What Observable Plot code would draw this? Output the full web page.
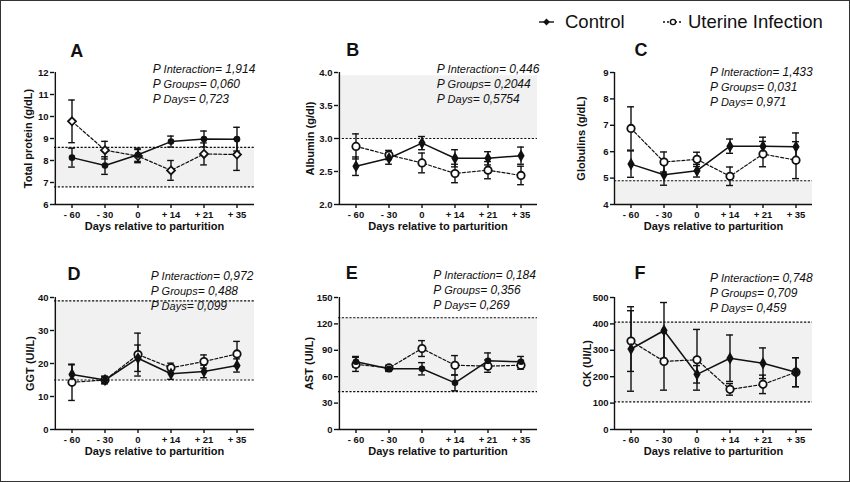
<!DOCTYPE html>
<html>
<head>
<meta charset="utf-8">
<script src="https://cdn.jsdelivr.net/npm/d3@7"></script>
<script src="https://cdn.jsdelivr.net/npm/@observablehq/plot@0.6"></script>
<style>
  body { margin: 0; background: #fff; }
  #page { position: relative; width: 850px; height: 482px; overflow: hidden; background: #fff;
          font-family: "Liberation Sans", Arial, sans-serif; color: #111; }
  #frame { position: absolute; left: 0; top: 0; width: 850px; height: 482px; box-sizing: border-box;
           border: 1px solid #333; pointer-events: none; }
  .panel { position: absolute; }
  .letter { position: absolute; font-weight: bold; font-size: 18px; transform: translate(-50%, -50%); }
  .pv { position: absolute; font-style: italic; font-size: 12px; line-height: 15px; white-space: nowrap; }
  .pv .w { font-size: 11px; }
  .leg { position: absolute; font-size: 18.5px; line-height: 20px; white-space: nowrap; }
  svg.legsym { position: absolute; overflow: visible; }
</style>
</head>
<body>
<div id="page"><div id="frame"></div></div>
<script>
// ---------- data ----------
const days = ["- 60", "- 30", "0", "+ 14", "+ 21", "+ 35"];

// A: Total protein (g/dL)
const tpControl = [8.13, 7.77, 8.26, 8.86, 8.98, 8.97];
const tpControlSem = [0.43, 0.40, 0.30, 0.25, 0.36, 0.54];
const tpInfection = [9.78, 8.47, 8.20, 7.55, 8.30, 8.27];
const tpInfectionSem = [0.97, 0.40, 0.30, 0.45, 0.50, 0.72];
const tpTicks = [6, 7, 8, 9, 10, 11, 12];
const tpRef = [6.8, 8.6];

// B: Albumin (g/dl)
const albControl = [2.58, 2.70, 2.93, 2.70, 2.70, 2.74];
const albControlSem = [0.14, 0.09, 0.10, 0.13, 0.10, 0.13];
const albInfection = [2.88, 2.75, 2.63, 2.47, 2.52, 2.44];
const albInfectionSem = [0.19, 0.07, 0.15, 0.14, 0.13, 0.14];
const albTicks = [2.0, 2.5, 3.0, 3.5, 4.0];
const albRef = [3.0, 3.95];

// C: Globulins (g/dL)
const gloControl = [5.53, 5.13, 5.28, 6.21, 6.21, 6.19];
const gloControlSem = [0.50, 0.40, 0.24, 0.27, 0.34, 0.52];
const gloInfection = [6.88, 5.61, 5.71, 5.07, 5.91, 5.68];
const gloInfectionSem = [0.82, 0.38, 0.27, 0.35, 0.48, 0.70];
const gloTicks = [4, 5, 6, 7, 8, 9];
const gloRef = [4.0, 4.9];

// D: GGT (UI/L)
const ggtControl = [16.7, 15.0, 21.6, 16.9, 17.6, 19.4];
const ggtControlSem = [2.9, 1.2, 4.0, 1.7, 1.9, 2.0];
const ggtInfection = [14.3, 15.0, 22.7, 18.7, 20.6, 22.9];
const ggtInfectionSem = [5.5, 1.0, 6.5, 1.4, 2.0, 3.8];
const ggtTicks = [0, 10, 20, 30, 40];
const ggtRef = [15, 39];

// E: AST (UI/L)
const astControl = [77, 69, 69, 53, 78, 77];
const astControlSem = [6, 3, 7, 9, 9, 6];
const astInfection = [74, 70, 92, 73, 72, 73];
const astInfectionSem = [8, 3, 9, 11, 7, 4.5];
const astTicks = [0, 30, 60, 90, 120, 150];
const astRef = [43, 127];

// F: CK (UI/L)
const ckControl = [305, 375, 209, 270, 251, 217];
const ckControlSem = [160, 106, 33, 88, 58, 55];
const ckInfection = [335, 258, 264, 152, 171, 217];
const ckInfectionSem = [115, 109, 115, 22, 35, 55];
const ckTicks = [0, 100, 200, 300, 400, 500];
const ckRef = [105, 407];

// statistics text
const panelLetters = ["A", "B", "C", "D", "E", "F"];
const pInteraction = ["1,914", "0,446", "1,433", "0,972", "0,184", "0,748"];
const pGroups = ["0,060", "0,2044", "0,031", "0,488", "0,356", "0,709"];
const pDays = ["0,723", "0,5754", "0,971", "0,099", "0,269", "0,459"];

const xTitle = "Days relative to parturition";
const legendLabels = ["Control", "Uterine Infection"];

// ---------- layout ----------
const page = document.getElementById("page");
const FONT = "'Liberation Sans', Arial, sans-serif";

function panel(cfg) {
  const {left, top, ml, pw, ticks, fmt, yLabel, ylDx, control, controlSem, infection, infectionSem,
         shade, dashed, ctlSymbol, infSymbol} = cfg;
  const mt = 12, ph = 132, mb = 45, mr = 12;
  const rows = days.map((d, i) => ({day: d, c: control[i], cs: controlSem[i], f: infection[i], fs: infectionSem[i]}));
  const step = pw / days.length;
  const capInset = (step - 7) / 2;
  const y0 = ticks[0], y1 = ticks[ticks.length - 1];
  const cap = (acc) => Plot.tickY(rows, {x: "day", y: acc, insetLeft: capInset, insetRight: capInset, stroke: "#111", strokeWidth: 1.4});
  const chart = Plot.plot({
    width: ml + pw + mr, height: mt + ph + mb,
    marginLeft: ml, marginRight: mr, marginTop: mt, marginBottom: mb,
    style: {fontFamily: FONT, fontWeight: "bold", background: "transparent", overflow: "visible", color: "#111"},
    x: {type: "band", domain: days, padding: 0, label: null},
    y: {domain: [y0, y1], label: null},
    marks: [
      Plot.rect([shade], {y1: d => d[0], y2: d => d[1], fill: "#f1f1f1"}),
      Plot.ruleY(dashed, {stroke: "#111", strokeWidth: 1.2, strokeDasharray: "2.2,1.6"}),
      // error bars
      Plot.ruleX(rows, {x: "day", y1: d => d.f - d.fs, y2: d => d.f + d.fs, stroke: "#111", strokeWidth: 1.4}),
      cap(d => d.f - d.fs), cap(d => d.f + d.fs),
      Plot.ruleX(rows, {x: "day", y1: d => d.c - d.cs, y2: d => d.c + d.cs, stroke: "#111", strokeWidth: 1.4}),
      cap(d => d.c - d.cs), cap(d => d.c + d.cs),
      // series lines
      Plot.line(rows, {x: "day", y: "f", stroke: "#111", strokeWidth: 1.2, strokeDasharray: "3,2"}),
      Plot.line(rows, {x: "day", y: "c", stroke: "#111", strokeWidth: 1.5}),
      // markers
      Plot.dot(rows, {x: "day", y: "f", symbol: infSymbol, r: infSymbol === "circle" ? 3.7 : 3.6, fill: "white", stroke: "#111", strokeWidth: 1.8}),
      Plot.dot(rows, {x: "day", y: "c", symbol: ctlSymbol, r: ctlSymbol === "circle" ? 3.3 : 3.8, fill: "#111", stroke: "none"}),
      // axes
      Plot.ruleY([y0], {stroke: "#111", strokeWidth: 1.4}),
      Plot.ruleX([days[0]], {dx: -step / 2, stroke: "#111", strokeWidth: 1.4}),
      Plot.axisY({ticks, tickFormat: fmt, tickSize: 4, tickPadding: 2, fontSize: 9.5, strokeWidth: 1.4, label: null}),
      Plot.axisX({tickSize: 4, tickPadding: 3, fontSize: 9.5, strokeWidth: 1.4, label: null}),
      Plot.text([xTitle], {text: d => d, frameAnchor: "bottom", dy: 25, fontSize: 11, fontWeight: "bold"}),
      Plot.text([yLabel], {text: d => d, frameAnchor: "left", textAnchor: "middle", dx: ylDx, rotate: -90, fontSize: 11, fontWeight: "bold"})
    ]
  });
  const div = document.createElement("div");
  div.className = "panel";
  div.style.left = left + "px";
  div.style.top = (top - mt) + "px";
  div.appendChild(chart);
  page.appendChild(div);
}

const intFmt = d3.format("d");
panel({left: 0, top: 72, ml: 54, pw: 200, ticks: tpTicks, fmt: intFmt, yLabel: "Total protein (g/dL)", ylDx: -26,
       control: tpControl, controlSem: tpControlSem, infection: tpInfection, infectionSem: tpInfectionSem,
       shade: tpRef, dashed: tpRef, ctlSymbol: "circle", infSymbol: "diamond2"});
panel({left: 280, top: 72, ml: 58, pw: 199, ticks: albTicks, fmt: d3.format(".1f"), yLabel: "Albumin (g/dl)", ylDx: -28,
       control: albControl, controlSem: albControlSem, infection: albInfection, infectionSem: albInfectionSem,
       shade: albRef, dashed: [albRef[0]], ctlSymbol: "diamond", infSymbol: "circle"});
panel({left: 555, top: 72, ml: 59, pw: 198, ticks: gloTicks, fmt: intFmt, yLabel: "Globulins (g/dL)", ylDx: -33,
       control: gloControl, controlSem: gloControlSem, infection: gloInfection, infectionSem: gloInfectionSem,
       shade: gloRef, dashed: [gloRef[1]], ctlSymbol: "diamond", infSymbol: "circle"});
panel({left: 0, top: 297, ml: 54, pw: 200, ticks: ggtTicks, fmt: intFmt, yLabel: "GGT (UI/L)", ylDx: -24,
       control: ggtControl, controlSem: ggtControlSem, infection: ggtInfection, infectionSem: ggtInfectionSem,
       shade: ggtRef, dashed: ggtRef, ctlSymbol: "diamond", infSymbol: "circle"});
panel({left: 280, top: 297, ml: 58, pw: 199, ticks: astTicks, fmt: intFmt, yLabel: "AST (UI/L)", ylDx: -29,
       control: astControl, controlSem: astControlSem, infection: astInfection, infectionSem: astInfectionSem,
       shade: astRef, dashed: astRef, ctlSymbol: "circle", infSymbol: "circle"});
panel({left: 555, top: 297, ml: 59, pw: 198, ticks: ckTicks, fmt: intFmt, yLabel: "CK (UI/L)", ylDx: -27,
       control: ckControl, controlSem: ckControlSem, infection: ckInfection, infectionSem: ckInfectionSem,
       shade: ckRef, dashed: ckRef, ctlSymbol: "diamond", infSymbol: "circle"});

// panel letters and statistics
const letterPos = [[76.7, 50.5], [352.7, 50], [641, 50], [74, 274], [351.7, 273.3], [640, 273]];
const pvPos = [[152.7, 69], [436.7, 69], [710, 72.3], [150.7, 276.7], [433.3, 275.7], [710, 278.3]];
panelLetters.forEach((L, i) => {
  const el = document.createElement("div");
  el.className = "letter";
  el.textContent = L;
  el.style.left = letterPos[i][0] + "px";
  el.style.top = letterPos[i][1] + "px";
  page.appendChild(el);
  const pv = document.createElement("div");
  pv.className = "pv";
  pv.style.left = pvPos[i][0] + "px";
  pv.style.top = (pvPos[i][1] - 7.5) + "px";
  pv.innerHTML =
    `<div>P <span class="w">Interaction</span>= ${pInteraction[i]}</div>` +
    `<div>P <span class="w">Groups</span>= ${pGroups[i]}</div>` +
    `<div>P <span class="w">Days</span>= ${pDays[i]}</div>`;
  page.appendChild(pv);
});

// legend
const ns = "http://www.w3.org/2000/svg";
function legendItem(x0, x1, cx, textX, label, dashedLine, openMarker) {
  const s = document.createElementNS(ns, "svg");
  s.setAttribute("class", "legsym");
  s.setAttribute("width", 30); s.setAttribute("height", 12);
  s.style.left = x0 + "px"; s.style.top = "16px";
  const ln = document.createElementNS(ns, "line");
  ln.setAttribute("x1", 0); ln.setAttribute("x2", x1 - x0);
  ln.setAttribute("y1", 6); ln.setAttribute("y2", 6);
  ln.setAttribute("stroke", "#111"); ln.setAttribute("stroke-width", 1.4);
  if (dashedLine) ln.setAttribute("stroke-dasharray", "2,2");
  s.appendChild(ln);
  if (openMarker) {
    const c = document.createElementNS(ns, "circle");
    c.setAttribute("cx", cx - x0); c.setAttribute("cy", 6); c.setAttribute("r", 2.6);
    c.setAttribute("fill", "white"); c.setAttribute("stroke", "#111"); c.setAttribute("stroke-width", 1.4);
    s.appendChild(c);
  } else {
    const p = document.createElementNS(ns, "path");
    const x = cx - x0;
    p.setAttribute("d", `M${x},2.6L${x + 3.4},6L${x},9.4L${x - 3.4},6Z`);
    p.setAttribute("fill", "#111");
    s.appendChild(p);
  }
  page.appendChild(s);
  const t = document.createElement("div");
  t.className = "leg";
  t.textContent = label;
  t.style.left = textX + "px";
  t.style.top = "12px";
  page.appendChild(t);
}
legendItem(539, 554, 546.5, 565, legendLabels[0], false, false);
legendItem(663, 683, 673, 688, legendLabels[1], true, true);
</script>
</body>
</html>
